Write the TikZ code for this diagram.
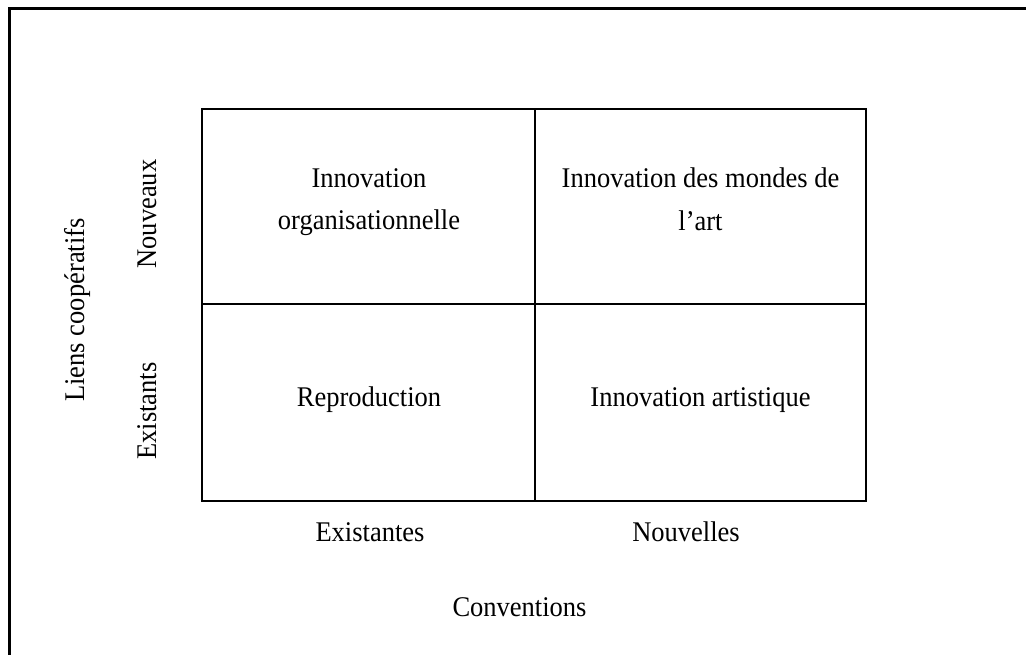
\documentclass[tikz,border=0pt]{standalone}
\usepackage{fontspec}
\setmainfont{Liberation Serif}[FakeStretch=0.93]
\usepackage{tikz}

\begin{document}
\begin{tikzpicture}[x=1pt, y=-1pt,
    cell/.style={font=\fontsize{28.5}{43}\selectfont, align=center, anchor=base, inner sep=0pt},
    axis/.style={font=\fontsize{28.5}{43}\selectfont, anchor=base, inner sep=0pt},
    grid/.style={line width=2pt}]
    \useasboundingbox (0,0) rectangle (1026,655);

    % outer frame (runs off the page on the right and bottom)
    \draw[line width=3pt] (9,8.5) rectangle (1040,670);

    \coordinate (TL) at (202,109);
    \coordinate (BR) at (866,501);
    \coordinate (MT) at (535,109);
    \coordinate (MB) at (535,501);
    \coordinate (ML) at (202,304);
    \coordinate (MR) at (866,304);

    \draw[grid] (TL) rectangle (BR);
    \draw[grid] (MT) -- (MB);
    \draw[grid] (ML) -- (MR);

    % two-line cells: base is the last line
    \node[cell] (orga) at (369,230) {Innovation\\organisationnelle};
    \node[cell] (monde) at (700.5,231) {Innovation des mondes de\\l'art};
    \node[cell] (repro) at (369,406) {Reproduction};
    \node[cell] (artis) at (700.5,406) {Innovation artistique};

    \node[axis] (exist) at (370,541.5) {Existantes};
    \node[axis] (nouv) at (686,541.5) {Nouvelles};
    \node[axis] (conv) at (519.5,616) {Conventions};

    \node[axis, rotate=90] (nouveaux) at (156,214) {Nouveaux};
    \node[axis, rotate=90] (existants) at (156,411) {Existants};
    \node[axis, rotate=90] (liens) at (84,310) {Liens coopératifs};
\end{tikzpicture}
\end{document}
